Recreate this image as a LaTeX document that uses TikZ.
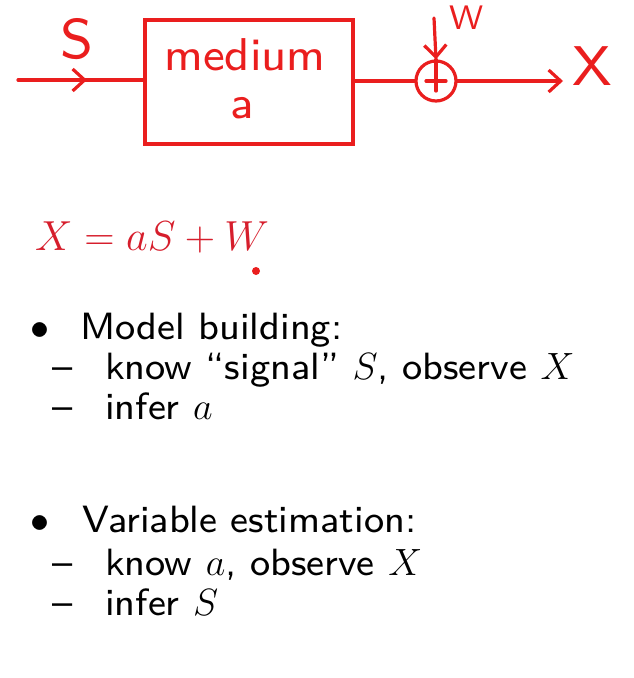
\RequirePackage{fix-cm}
\documentclass[tikz,border=0pt]{standalone}
\usetikzlibrary{arrows.meta,decorations.markings}
\definecolor{penred}{RGB}{234,30,30}
\definecolor{eqred}{RGB}{214,30,44}
\font\bodyfont="[lmsans8-regular.otf]" at 38pt
\font\handfont="[lmsans8-regular.otf]" at 46pt
\font\handbig="[lmsans8-regular.otf]" at 56pt
\font\handsmall="[lmsans8-regular.otf]" at 34pt
\begin{document}
\begin{tikzpicture}[x=1pt, y=-1pt,
        pen/.style={draw=penred, line width=3.2pt, line cap=round},
        block/.style={pen, minimum width=208pt, minimum height=124pt, inner sep=0pt},
        adder/.style={pen, circle, minimum size=40pt, inner sep=0pt},
        hand/.style={text=penred, font=\handfont, inner sep=0pt},
        arrow/.style={pen, -{Straight Barb[length=12pt, width=22pt, line width=3.2pt]}},
        midarrow/.style={pen, postaction={decorate}, decoration={markings, mark=at position 0.55 with {\arrow{Straight Barb[length=12pt, width=22pt, line width=3.2pt]}}}},
        item/.style={anchor=base west, inner sep=0pt, font=\fontsize{38}{38}\selectfont\bodyfont}
    ]
    \useasboundingbox (0,0) rectangle (633,678);

    % block diagram
    \node[block] (medium) at (249,82) {};
    \node[hand] (mlabel) at (245,55) {medium};
    \node[hand] (alabel) at (242,108) {a};
    \node[adder] (sum) at (436,81) {};
    \coordinate (in) at (18,80);
    \coordinate (out) at (563,81);
    \coordinate (noise) at (434,18);
    \draw[midarrow] (in) -- (in -| medium.west);
    \draw[pen] (sum.west -| medium.east) -- (sum.west);
    \draw[arrow] (sum.east) -- (out);
    \draw[arrow] (noise) -- (sum.north);
    \draw[pen] (sum.north) -- ([yshift=-10pt]sum.center);
    \draw[pen] ([xshift=-10pt]sum.center) -- ([xshift=10pt]sum.center);
    \node[hand, font=\handbig] (slabel) at (77,39) {S};
    \node[hand, font=\handsmall] (wlabel) at (467,18) {W};
    \node[hand, font=\handbig] (xlabel) at (592,66) {X};

    % model equation
    \node[anchor=base west, inner sep=0pt, text=eqred, font=\fontsize{42}{42}\selectfont] (eq) at (35,250) {$X = aS + W$};
    \fill[penred] (256,271) circle (4pt);

    % model building
    \node[item] (b1) at (30,339) {$\bullet$};
    \node[item] (t1) at (80,339) {Model building:};
    \node[item] (d1) at (52,379) {–};
    \node[item] (t2) at (105,379) {know “signal” $S$, observe $X$};
    \node[item] (d2) at (52,419) {–};
    \node[item] (t3) at (105,419) {infer $a$};

    % variable estimation
    \node[item] (b2) at (30,532) {$\bullet$};
    \node[item] (t4) at (82,532) {Variable estimation:};
    \node[item] (d3) at (52,575) {–};
    \node[item] (t5) at (105,575) {know $a$, observe $X$};
    \node[item] (d4) at (52,615) {–};
    \node[item] (t6) at (105,615) {infer $S$};
\end{tikzpicture}
\end{document}
